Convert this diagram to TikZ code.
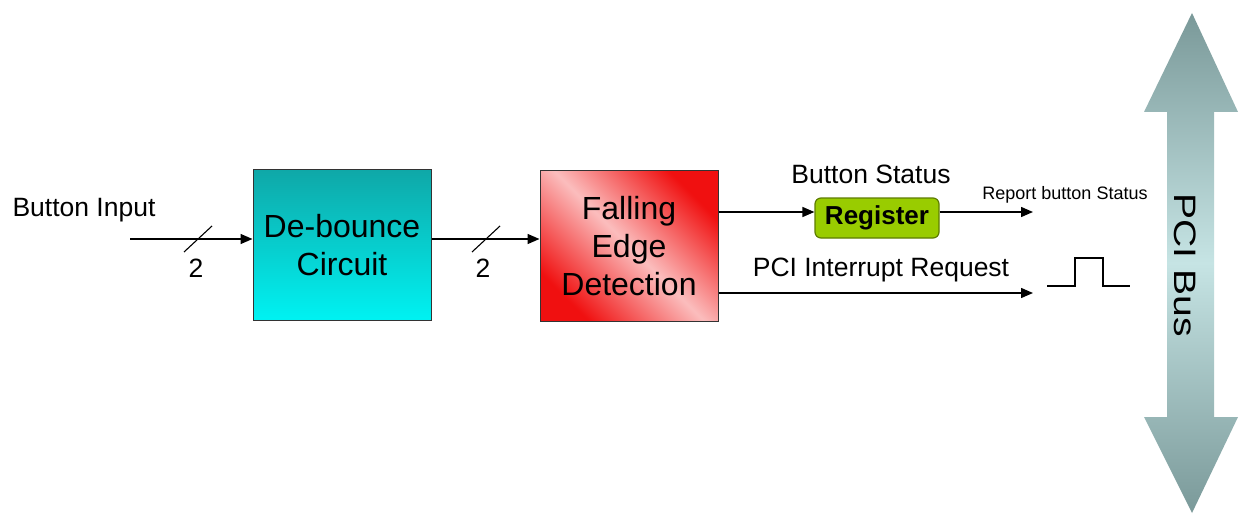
\documentclass[tikz,border=0pt]{standalone}
\usepackage{fontspec}
\setmainfont{Liberation Sans}
\usetikzlibrary{arrows.meta}
\definecolor{tealtop}{HTML}{0FA8A8}
\definecolor{cyanbot}{HTML}{00F2F2}
\definecolor{redend}{HTML}{F01010}
\definecolor{pinkmid}{HTML}{FBBDBD}
\definecolor{reggreen}{HTML}{99CC00}
\definecolor{regedge}{HTML}{5E7D00}
\definecolor{busdark}{HTML}{7A9999}
\definecolor{buslight}{HTML}{C6E4E4}
\tikzset{
  wire/.style={line width=1.4pt, -{Triangle[length=12pt,width=10pt]}},
  plain/.style={line width=1.1pt},
  block/.style={draw=black!80, line width=1pt, minimum width=178pt, minimum height=150pt,
    align=center, font=\fontsize{32}{38}\selectfont, inner sep=0pt},
  lbl/.style={font=\fontsize{26.5}{30}\selectfont, inner sep=0pt},
  small/.style={font=\fontsize{18}{22}\selectfont, inner sep=0pt},
}
\begin{document}
\begin{tikzpicture}[x=1pt, y=-1pt]
\useasboundingbox[fill=white] (0,0) rectangle (1240,516);

% processing blocks
\node[block, top color=tealtop, bottom color=cyanbot] (deb) at (342,245) {De-bounce\\Circuit};
\node[block, left color=redend, right color=redend, middle color=pinkmid, shading angle=-45] (fed) at (629,246) {Falling\\Edge\\Detection};
\node[draw=regedge, line width=1.2pt, fill=reggreen, rounded corners=6pt,
      minimum width=124pt, minimum height=40pt, inner sep=0pt,
      font=\bfseries\fontsize{26}{30}\selectfont] (reg) at (877,218) {Register};

% connector end points
\coordinate (in) at (130,239);
\coordinate (stat) at (0,212);
\coordinate (rep) at (1033,212);
\coordinate (irq) at (1033,293);

% input chain
\node[lbl] (btnin) at (84,210) {Button Input};
\draw[wire] (in) -- (in -| deb.west);
\draw[plain] (184,252) -- (212,226);
\node[lbl] (w1) at (196,268) {2};
\draw[wire] (deb.east |- in) -- (in -| fed.west);
\draw[plain] (472,252) -- (500,226);
\node[lbl] (w2) at (483,268) {2};

% outputs
\node[lbl] (bst) at (871,174) {Button Status};
\draw[wire] (fed.east |- stat) -- (reg.west |- stat);
\draw[wire] (reg.east |- stat) -- (rep);
\node[small] (rbs) at (1065,195) {Report button Status};
\node[lbl] (pir) at (881,270) {PCI Interrupt Request};
\draw[wire] (fed.east |- irq) -- (irq);

% interrupt pulse
\draw[plain] (1047,286) -| (1075,258) -| (1103,286) -- (1130,286);

% PCI bus double arrow
\path[top color=busdark, bottom color=busdark, middle color=buslight]
  (1192,13) -- (1238,112) -- (1214,112) -- (1214,417) -- (1238,417) -- (1192,513)
  -- (1144,417) -- (1167,417) -- (1167,112) -- (1144,112) -- cycle;
\node[font=\fontsize{31}{36}\selectfont, rotate=-90, inner sep=0pt] (bus) at (1185,265) {\scalebox{1.26}[1]{PCI Bus}};
\end{tikzpicture}
\end{document}
